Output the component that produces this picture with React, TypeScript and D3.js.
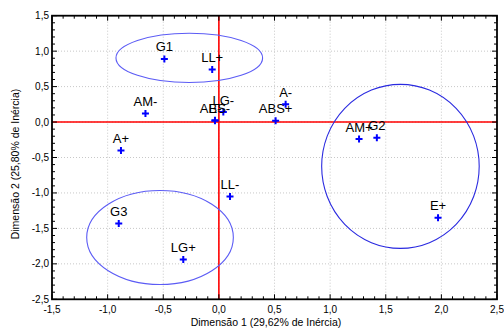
import React from "react";
import * as d3 from "d3";

const pointLabels = ["G1", "LL+", "AM-", "A+", "LG-", "ABS-", "E-", "ABS+", "A-", "AM+", "G2", "E+", "LL-", "LG+", "G3"];
const dim1 = [-0.49, -0.06, -0.66, -0.88, 0.04, -0.035, -0.035, 0.51, 0.6, 1.26, 1.42, 1.97, 0.1, -0.32, -0.9];
const dim2 = [0.89, 0.74, 0.12, -0.4, 0.14, 0.02, 0.025, 0.02, 0.25, -0.24, -0.22, -1.35, -1.05, -1.94, -1.43];

const ellipseCx = [-0.266, 1.632, -0.529];
const ellipseCy = [0.905, -0.625, -1.629];
const ellipseRx = [0.659, 0.708, 0.659];
const ellipseRy = [0.348, 1.157, 0.663];
const ellipseColors = ["#5c5cf5", "#2a2ae0", "#5c5cf5"];

const xTicks = [-1.5, -1.0, -0.5, 0.0, 0.5, 1.0, 1.5, 2.0, 2.5];
const yTicks = [1.5, 1.0, 0.5, 0.0, -0.5, -1.0, -1.5, -2.0, -2.5];
const xTitle = "Dimensão 1 (29,62% de Inércia)";
const yTitle = "Dimensão 2 (25,80% de Inércia)";

const W = 504;
const H = 335;
const L = 52, R = 497, T = 15.7, B = 299.3;

const fmt = (v: number) => v.toFixed(1).replace(".", ",");
const font = "'Liberation Sans', Arial, sans-serif";

export default function App() {
  const x = d3.scaleLinear().domain([-1.5, 2.5]).range([L, R]);
  const y = d3.scaleLinear().domain([-2.5, 1.5]).range([B, T]);
  const minorX = d3.range(-15, 26).map((i) => i / 10);
  const minorY = d3.range(-25, 16).map((i) => i / 10);

  return (
    <svg width={W} height={H} style={{ position: "absolute", left: 0, top: 0 }} fontFamily={font}>
      <rect width={W} height={H} fill="#fff" />
      {/* grid */}
      {xTicks.slice(1, -1).map((t) => (
        <line key={"gx" + t} x1={x(t)} x2={x(t)} y1={T} y2={B} stroke="#c8c8c8" strokeDasharray="1,2" />
      ))}
      {yTicks.slice(1, -1).map((t) => (
        <line key={"gy" + t} x1={L} x2={R} y1={y(t)} y2={y(t)} stroke="#c8c8c8" strokeDasharray="1,2" />
      ))}
      {/* reference lines */}
      <line x1={x(0)} x2={x(0)} y1={T} y2={B} stroke="#ff0000" strokeWidth={1.6} />
      <line x1={L} x2={R} y1={y(0)} y2={y(0)} stroke="#ff0000" strokeWidth={1.6} />
      {/* ellipses */}
      {ellipseCx.map((cx, i) => (
        <ellipse
          key={"e" + i}
          cx={x(cx)}
          cy={y(ellipseCy[i])}
          rx={x(cx + ellipseRx[i]) - x(cx)}
          ry={y(ellipseCy[i] - ellipseRy[i]) - y(ellipseCy[i])}
          fill="none"
          stroke={ellipseColors[i]}
          strokeWidth={1.1}
        />
      ))}
      {/* points */}
      {pointLabels.map((lab, i) => {
        const px = x(dim1[i]);
        const py = y(dim2[i]);
        return (
          <g key={"p" + i}>
            <path
              d={`M${px - 3.5},${py}H${px + 3.5}M${px},${py - 3.5}V${py + 3.5}`}
              stroke="#0000ff"
              strokeWidth={2}
            />
            <text x={px} y={py - 7.5} textAnchor="middle" fontSize={13} fill="#000">
              {lab}
            </text>
          </g>
        );
      })}
      {/* ticks */}
      {minorX.map((t, i) => {
        const major = Math.abs(t * 2 - Math.round(t * 2)) < 1e-6;
        const len = major ? 5 : 3;
        return (
          <g key={"tx" + i}>
            <line x1={x(t)} x2={x(t)} y1={B} y2={B - len} stroke="#000" />
            <line x1={x(t)} x2={x(t)} y1={T} y2={T + len} stroke="#000" />
          </g>
        );
      })}
      {minorY.map((t, i) => {
        const major = Math.abs(t * 2 - Math.round(t * 2)) < 1e-6;
        const len = major ? 5 : 3;
        return (
          <g key={"ty" + i}>
            <line x1={L} x2={L + len} y1={y(t)} y2={y(t)} stroke="#000" />
            <line x1={R} x2={R - len} y1={y(t)} y2={y(t)} stroke="#000" />
          </g>
        );
      })}
      {/* frame */}
      <rect x={L} y={T} width={R - L} height={B - T} fill="none" stroke="#000" strokeWidth={1.8} />
      {/* tick labels */}
      {xTicks.map((t) => (
        <text key={"lx" + t} x={x(t)} y={313} textAnchor="middle" fontSize={10} fill="#000">
          {fmt(t)}
        </text>
      ))}
      {yTicks.map((t) => (
        <text key={"ly" + t} x={49} y={y(t) + 3.5} textAnchor="end" fontSize={10} fill="#000">
          {fmt(t)}
        </text>
      ))}
      <text x={266} y={326} textAnchor="middle" fontSize={10.5} fill="#000">
        {xTitle}
      </text>
      <text transform={`translate(18.5,164) rotate(-90)`} textAnchor="middle" fontSize={10.5} fill="#000">
        {yTitle}
      </text>
    </svg>
  );
}
